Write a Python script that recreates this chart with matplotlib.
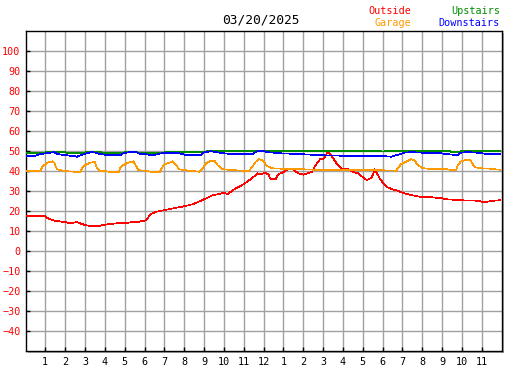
import matplotlib
matplotlib.use("Agg")
import matplotlib.pyplot as plt
from matplotlib.patches import Rectangle

# hours since midnight, degrees F
outside_t = [0, 1.0, 1.1, 1.45, 2.0, 2.25, 2.6, 2.75, 3.0, 3.3, 3.6, 4.0, 4.6, 5.0,
             5.3, 5.6, 6.0, 6.1, 6.3, 6.6, 7.0, 7.45, 8.0, 8.45, 9.0, 9.45, 9.75,
             10.0, 10.2, 10.45, 11.0, 11.45, 11.7, 11.85, 12.0, 12.15, 12.25, 12.35,
             12.6, 12.75, 13.0, 13.25, 13.45, 13.75, 14.0, 14.45, 14.6, 14.85, 15.0,
             15.25, 15.45, 15.7, 15.95, 16.25, 16.4, 16.75, 17.2, 17.45, 17.6, 17.85,
             18.1, 18.25, 18.5, 18.75, 19.0, 19.25, 19.6, 20.0, 20.5, 21.0, 21.25,
             22.0, 22.75, 23.0, 23.25, 23.6, 23.9]
outside_v = [17.2, 17.2, 16.3, 15.0, 14.3, 13.7, 14.3, 13.7, 12.8, 12.3, 12.2, 13.0,
             13.7, 13.8, 14.2, 14.3, 15.0, 15.5, 18.3, 19.5, 20.3, 21.2, 22.2, 23.3,
             25.7, 27.8, 28.3, 29.0, 28.3, 30.3, 33.3, 36.5, 38.7, 38.3, 38.7, 38.7,
             38.0, 35.7, 35.7, 38.3, 39.3, 40.8, 40.8, 38.7, 38.0, 39.5, 42.5, 45.8,
             45.7, 49.5, 47.0, 43.3, 40.7, 40.7, 39.8, 38.7, 35.3, 36.5, 40.7, 36.2,
             32.8, 31.7, 30.7, 30.0, 29.0, 28.3, 27.5, 26.7, 26.7, 26.2, 25.7, 25.2,
             25.0, 24.5, 24.5, 25.0, 25.2]

garage_t = [0, 0.75, 0.85, 1.1, 1.35, 1.45, 1.52, 1.6, 2.0, 2.45, 2.75, 2.85, 3.0,
            3.25, 3.5, 3.6, 3.75, 4.0, 4.35, 4.7, 4.77, 4.93, 5.18, 5.43, 5.6, 5.68,
            6.0, 6.43, 6.77, 6.85, 7.02, 7.27, 7.43, 7.6, 7.77, 8.0, 8.43, 8.77, 8.93,
            9.1, 9.35, 9.52, 9.68, 9.85, 10.0, 10.43, 10.93, 11.27, 11.43, 11.6, 11.77,
            11.93, 12.07, 12.18, 12.43, 12.93, 14.0, 15.0, 16.0, 18.0, 18.68, 18.77,
            18.93, 19.18, 19.43, 19.6, 19.77, 20.0, 20.6, 21.27, 21.52, 21.7, 21.77,
            21.93, 22.18, 22.43, 22.57, 22.68, 23.0, 23.43, 23.68, 23.9]
garage_v = [40.0, 40.0, 42.0, 44.0, 44.7, 44.0, 42.0, 40.7, 39.8, 39.5, 39.3, 41.2,
            42.8, 44.0, 44.3, 41.2, 40.0, 39.8, 39.3, 39.2, 41.2, 42.8, 44.0, 44.7,
            42.0, 40.3, 40.0, 39.3, 39.3, 41.2, 43.3, 44.0, 44.7, 42.5, 40.7, 40.3,
            39.8, 39.5, 41.2, 43.7, 45.0, 45.0, 42.8, 41.2, 40.7, 40.3, 40.0, 40.0,
            42.0, 44.5, 45.7, 45.3, 43.7, 42.3, 41.2, 41.0, 40.7, 40.3, 40.2, 40.2,
            40.0, 41.2, 43.3, 44.5, 45.7, 45.3, 42.8, 41.3, 40.7, 40.7, 40.2, 40.3,
            42.3, 44.5, 45.3, 45.3, 42.8, 41.7, 41.2, 41.0, 40.7, 40.5]

upstairs_t = [0, 1.0, 1.05, 2.0, 2.05, 3.0, 3.05, 3.8, 3.85, 5.0, 5.05, 5.6, 5.65,
              7.0, 7.05, 9.1, 9.15, 17.9, 17.95, 18.1, 18.15, 21.4, 21.45, 21.9,
              21.95, 22.9, 22.95, 23.9]
upstairs_v = [49.0, 49.0, 49.5, 49.5, 49.0, 49.0, 49.5, 49.5, 49.0, 49.0, 49.5, 49.5,
              49.0, 49.0, 49.5, 49.5, 50.0, 50.0, 49.6, 49.6, 50.0, 50.0, 49.5, 49.5,
              50.0, 50.0, 49.7, 49.7]

downstairs_t = [0, 0.43, 0.77, 1.0, 1.27, 1.43, 1.6, 2.0, 2.43, 2.6, 2.85, 3.1, 3.35,
                3.52, 3.77, 4.0, 4.43, 4.77, 4.93, 5.18, 5.6, 5.77, 6.0, 6.43, 6.85,
                7.27, 7.77, 8.0, 8.43, 8.85, 9.02, 9.35, 9.77, 10.0, 10.43, 10.93,
                11.43, 11.68, 11.93, 12.18, 12.85, 13.85, 14.93, 16.93, 18.0, 18.43,
                18.77, 19.1, 19.43, 20.0, 20.93, 21.52, 21.77, 21.93, 22.27, 22.77,
                23.0, 23.27, 23.9]
downstairs_v = [47.3, 47.3, 48.3, 48.7, 49.0, 49.3, 48.3, 47.8, 47.3, 47.0, 48.0, 48.7,
                49.3, 49.0, 48.3, 48.0, 47.7, 47.8, 48.7, 49.2, 49.2, 48.3, 48.3, 47.7,
                48.7, 49.0, 48.7, 48.0, 47.7, 48.0, 49.3, 49.7, 49.0, 48.7, 48.3, 48.2,
                48.3, 49.7, 50.0, 49.3, 48.7, 48.3, 47.7, 47.3, 47.3, 47.0, 48.0, 49.0,
                49.3, 49.0, 48.7, 48.0, 47.7, 49.0, 49.3, 49.0, 48.7, 48.3, 48.3]

hour_ticks = list(range(1, 24))
hour_labels = [str(h) for h in range(1, 13)] + [str(h) for h in range(1, 12)]
temp_ticks = list(range(-40, 101, 10))

title = "03/20/2025"
series = [
    ("Outside", outside_t, outside_v, "#ff0000"),
    ("Garage", garage_t, garage_v, "#ff9900"),
    ("Upstairs", upstairs_t, upstairs_v, "#008c00"),
    ("Downstairs", downstairs_t, downstairs_v, "#0000ff"),
]

plt.rcParams["font.family"] = ["DejaVu Sans Mono"]

W, H = 527, 370
fig = plt.figure(figsize=(W / 100, H / 100), dpi=100)
left, right, top, bottom = 25.5, 501.7, 30.7, 350.7
ax = fig.add_axes([left / W, 1 - bottom / H, (right - left) / W, (bottom - top) / H])

# drop shadow behind the plot box
fig.patches.append(Rectangle(((left + 2) / W, 1 - (bottom + 2) / H),
                             (right - left) / W, (bottom - top) / H,
                             transform=fig.transFigure, facecolor="#a8a8a8",
                             edgecolor="none", zorder=-1))

for name, t, v, color in series:
    ax.plot(t, v, color=color, lw=0.5, antialiased=False, zorder=3)

ax.set_xlim(0, 24)
ax.set_ylim(-50, 110)
ax.set_xticks(hour_ticks)
ax.set_xticklabels(hour_labels)
ax.set_yticks(temp_ticks)
ax.grid(True, color="#a0a0a0", lw=1.0)
ax.set_axisbelow(True)
ax.tick_params(axis="both", direction="in", length=3, width=1, color="black",
               labelsize=7.3)
ax.tick_params(axis="y", pad=3.5, labelcolor="#ff0000")
ax.tick_params(axis="x", pad=4.5)
for s in ax.spines.values():
    s.set_linewidth(1.0)
    s.set_color("black")

fig.text(261 / W, 1 - 20 / H, title, ha="center", va="center", fontsize=9.3)
fig.text(411 / W, 1 - 11 / H, "Outside", ha="right", va="center", fontsize=7.3,
         color="#ff0000")
fig.text(411 / W, 1 - 23 / H, "Garage", ha="right", va="center", fontsize=7.3,
         color="#ff9900")
fig.text(500 / W, 1 - 11 / H, "Upstairs", ha="right", va="center", fontsize=7.3,
         color="#008c00")
fig.text(500 / W, 1 - 23 / H, "Downstairs", ha="right", va="center", fontsize=7.3,
         color="#0000ff")

fig.savefig("out.png", dpi=100, facecolor="white")
